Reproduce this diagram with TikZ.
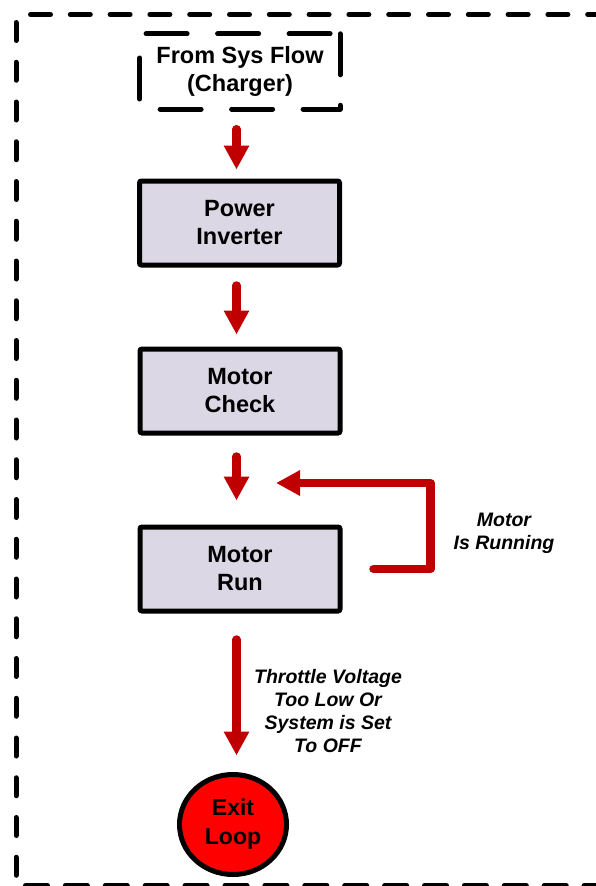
\documentclass[tikz,border=0pt]{standalone}
\usepackage{fontspec}
\setmainfont{Liberation Sans}
\usetikzlibrary{arrows.meta,shapes.geometric}
\definecolor{boxfill}{HTML}{DCD7E4}
\definecolor{arrred}{HTML}{C00000}
\tikzset{
  flow_txt/.style = {align=center, inner sep=0pt, font=\bfseries\fontsize{23.5}{28}\selectfont},
  flow_box/.style = {flow_txt, rectangle, rounded corners=2pt, draw=black, line width=5pt, fill=boxfill, minimum width=200pt, minimum height=84pt},
  flow_src/.style = {flow_txt, rectangle, minimum width=200pt, minimum height=75pt},
  flow_dash/.style = {draw=black, line width=5pt, line cap=round, line join=round},
  flow_end/.style = {flow_txt, ellipse, draw=black, line width=5pt, fill=red, minimum width=107pt, minimum height=100pt, font=\bfseries\fontsize{23}{29}\selectfont},
  flow_arr/.style = {draw=arrred, line width=8.5pt, line cap=round, line join=round, -{Triangle[width=24pt,length=24pt]}},
  flow_lbl/.style = {align=center, font=\bfseries\itshape\fontsize{19.5}{23}\selectfont}
}

\begin{document}
\begin{tikzpicture}[x=1pt, y=-1pt]
	\useasboundingbox (0,0) rectangle (595,886);
	\draw[flow_dash, dash pattern=on 20pt off 19.8pt, dash phase=25.3pt] (16,14.5) -- (640,14.5);
	\draw[flow_dash, dash pattern=on 18pt off 21.75pt, dash phase=31.75pt] (16,14.5) -- (16,885.5);
	\draw[flow_dash, dash pattern=on 22pt off 17.9pt, dash phase=30.4pt] (16,885.5) -- (640,885.5);

	\node[flow_src] (src) at (240,71.5) {From Sys Flow\\(Charger)};
	\node[flow_box] (inv) at (239.5,223) {Power\\Inverter};
	\node[flow_box] (check) at (240,391) {Motor\\Check};
	\node[flow_box] (run) at (240,569) {Motor\\Run};
	\node[flow_end] (exit) at (233,824.5) {Exit\\Loop};
	\coordinate (spine) at (236.5,483);

	\draw[flow_dash, dash pattern=on 41pt off 30.5pt] (src.north east) -- (src.south east) -- (src.south west) -- (src.north west) -- cycle;

	\draw[flow_arr, shorten <=20pt, shorten >=9pt] (spine |- src.south) -- (spine |- inv.north);
	\draw[flow_arr, shorten <=18pt, shorten >=12pt] (spine |- inv.south) -- (spine |- check.north);
	\draw[flow_arr, shorten <=21pt, shorten >=24pt] (spine |- check.south) -- (spine |- run.north);
	\draw[flow_arr, shorten <=31pt, shorten >=39.5pt] (run.east) -- ++(88,0) |- (spine);
	\draw[flow_arr, shorten <=26pt, shorten >=16.5pt] (spine |- run.south) -- (spine |- exit.north);

	\node[flow_lbl] (running) at (504,533) {Motor\\Is Running};
	\node[flow_lbl] (throttle) at (328,711) {Throttle Voltage\\Too Low Or\\System is Set\\To OFF};
\end{tikzpicture}
\end{document}
